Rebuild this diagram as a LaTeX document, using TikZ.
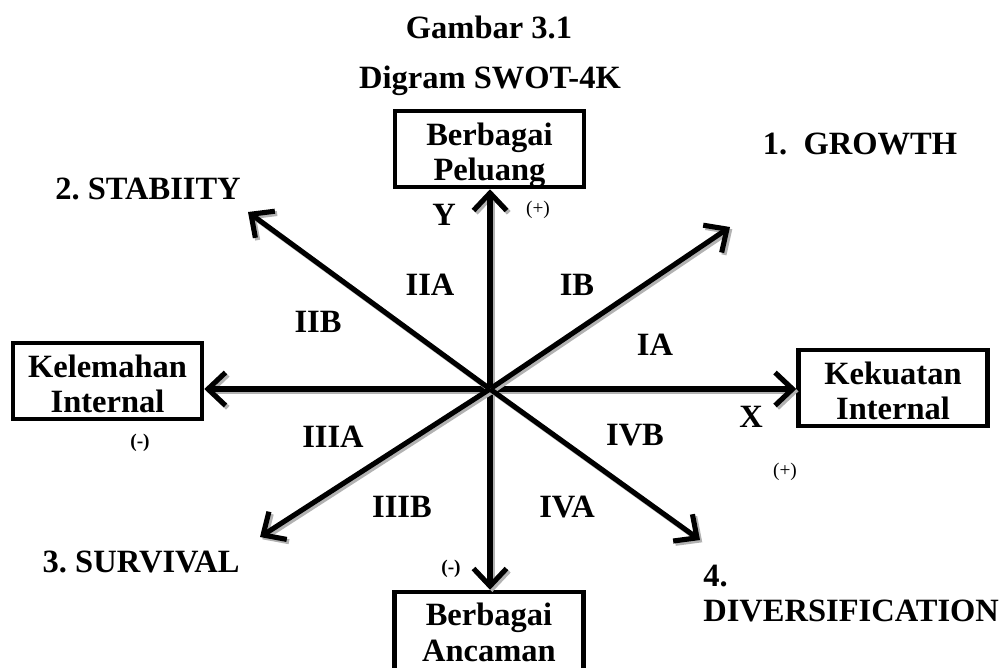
\documentclass[tikz,border=0pt]{standalone}
\usepackage{fontspec}
\setmainfont{Liberation Serif}
\usetikzlibrary{arrows.meta,positioning,calc}
\frenchspacing

\tikzset{
  panah/.style={line width=2.9pt, -{Straight Barb[length=3.5mm,width=6.6mm]},
    preaction={draw=black!30, line width=2.9pt, -{Straight Barb[length=3.5mm,width=6.6mm]},
      transform canvas={shift={(1.3pt,-1.3pt)}}}},
  kotak/.style={draw, line width=2.6pt, minimum width=3.78cm, minimum height=1.52cm,
    align=center, inner sep=0pt, text height=36pt, text depth=0pt,
    font=\fontsize{18.5}{20}\selectfont\bfseries},
  tulisan/.style={font=\fontsize{18.5}{20}\selectfont\bfseries, inner sep=0pt},
  tanda/.style={font=\fontsize{11}{13}\selectfont, inner sep=0pt},
}

\begin{document}
\begin{tikzpicture}[x=0.02cm, y=-0.02cm]
  \useasboundingbox (0,0) rectangle (1003,667);

  % judul
  \node[tulisan, anchor=base] (judul) at (489,38) {Gambar 3.1};
  \node[tulisan, anchor=base] (subjudul) at (490,88) {Digram SWOT-4K};

  % kotak
  \node[kotak] (peluang) at (489.5,149) {Berbagai\\Peluang};
  \node[kotak] (kelemahan) at (107.5,381) {Kelemahan\\Internal};
  \node[kotak] (kekuatan) at (893,388) {Kekuatan\\Internal};
  \node[kotak, minimum height=1.6cm, text height=33pt] (ancaman) at (489,632) {Berbagai\\Ancaman};

  \coordinate (o) at (490,389);
  \coordinate (tumbuh) at (730,227);
  \coordinate (stabil) at (248,212);
  \coordinate (bertahan) at (260,537);
  \coordinate (diversif) at (700,540);

  % sumbu
  \draw[panah] (o) -- (o |- peluang.south);
  \draw[panah] (o) -- (o |- ancaman.north);
  \draw[panah] (o) -- (o -| kelemahan.east);
  \draw[panah] (o) -- (o -| kekuatan.west);
  \draw[panah] (o) -- (tumbuh);
  \draw[panah] (o) -- (stabil);
  \draw[panah] (o) -- (bertahan);
  \draw[panah] (o) -- (diversif);

  % strategi
  \node[tulisan, anchor=base] (growth) at (860,154) {1.~ GROWTH};
  \node[tulisan, anchor=base] (stability) at (148,199) {2. STABIITY};
  \node[tulisan, anchor=base east] (survival) at (240,572) {3. SURVIVAL};
  \node[tulisan, anchor=base west] (empat) at (703,586) {4.};
  \node[tulisan, anchor=base west] (diversification) at (703,621) {DIVERSIFICATION};

  % kuadran
  \node[tulisan] (iia) at (430,285) {IIA};
  \node[tulisan] (ib) at (577,285) {IB};
  \node[tulisan] (iib) at (318,322) {IIB};
  \node[tulisan] (ia) at (655,345) {IA};
  \node[tulisan] (iiia) at (333,437) {IIIA};
  \node[tulisan] (ivb) at (635,435) {IVB};
  \node[tulisan] (iiib) at (402,507) {IIIB};
  \node[tulisan] (iva) at (567,507) {IVA};

  % sumbu x dan y
  \node[tulisan] (y) at (444,215) {Y};
  \node[tanda] (yplus) at (538,210) {(+)};
  \node[tulisan] (x) at (751,417) {X};
  \node[tanda] (xplus) at (785,472) {(+)};
  \node[tanda, font=\fontsize{11}{13}\selectfont\bfseries] (xmin) at (140,443) {(-)};
  \node[tanda, font=\fontsize{11}{13}\selectfont\bfseries] (ymin) at (451,569) {(-)};
\end{tikzpicture}
\end{document}
